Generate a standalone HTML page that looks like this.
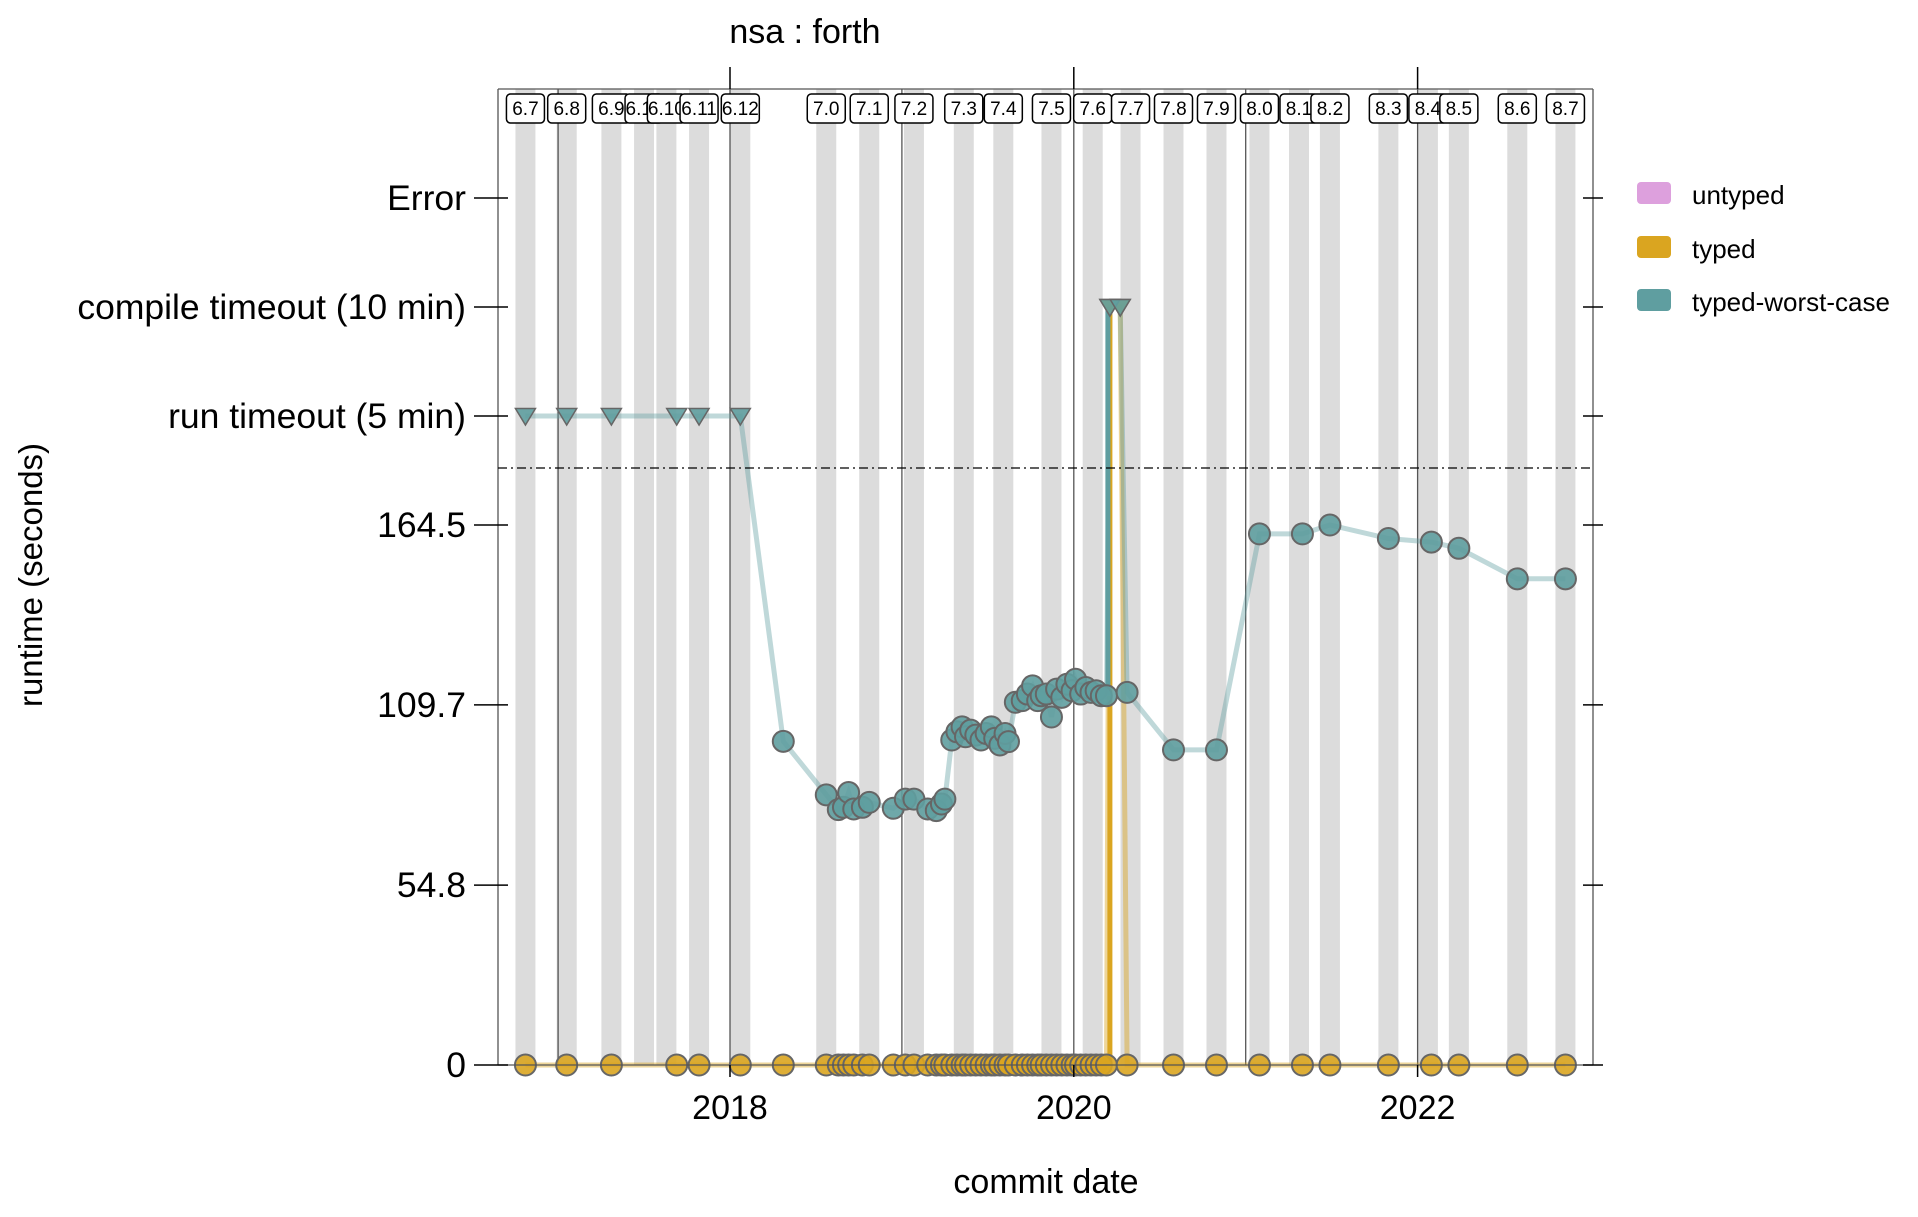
<!DOCTYPE html>
<html><head><meta charset="utf-8"><style>
html,body{margin:0;padding:0;background:#fff;}
svg text{font-family:"Liberation Sans",Arial,sans-serif;}
</style></head><body>
<svg id="chart" width="1918" height="1212" viewBox="0 0 1918 1212" xmlns="http://www.w3.org/2000/svg">
<text x="805" y="43" font-size="34" text-anchor="middle">nsa : forth</text>
<g id="bands"></g><g id="vlines"></g><g id="series"></g><g id="axes"></g><g id="labels"></g>
<text x="1046" y="1193" font-size="34" text-anchor="middle">commit date</text>
<text transform="translate(42,575) rotate(-90)" font-size="33" text-anchor="middle">runtime (seconds)</text>
<g>
<rect x="1637" y="182" width="34" height="22" rx="4" fill="#dda0dd"/>
<text x="1692" y="204" font-size="26">untyped</text>
<rect x="1637" y="236" width="34" height="22" rx="4" fill="#daa520"/>
<text x="1692" y="258" font-size="26">typed</text>
<rect x="1637" y="289" width="34" height="22" rx="4" fill="#5f9ea0"/>
<text x="1692" y="311" font-size="26">typed-worst-case</text>
</g>
</svg>
<script>
const releaseNames=["6.7","6.8","6.9","6.10","6.10","6.11","6.12","7.0","7.1","7.2","7.3","7.4","7.5","7.6","7.7","7.8","7.9","8.0","8.1","8.2","8.3","8.4","8.5","8.6","8.7"];
const releaseDates=[2016.81,2017.05,2017.31,2017.50,2017.63,2017.82,2018.06,2018.56,2018.81,2019.07,2019.36,2019.59,2019.87,2020.11,2020.33,2020.58,2020.83,2021.08,2021.31,2021.49,2021.83,2022.06,2022.24,2022.58,2022.86];
const yearTicks=[2018,2020,2022];
const yearLines=[2017,2018,2019,2020,2021,2022];
const yTickValues=[0,54.8,109.7,164.5];
const yTickLabels=["0","54.8","109.7","164.5"];
const commitDates=[2016.81,2017.05,2017.31,2017.69,2017.82,2018.06,2018.31,2018.56,2018.63,2018.66,2018.69,2018.72,2018.77,2018.81,2018.95,2019.02,2019.07,2019.15,2019.20,2019.23,2019.25,2019.29,2019.32,2019.35,2019.37,2019.40,2019.43,2019.46,2019.49,2019.52,2019.54,2019.57,2019.60,2019.62,2019.66,2019.70,2019.73,2019.76,2019.79,2019.81,2019.84,2019.87,2019.90,2019.93,2019.96,2019.99,2020.01,2020.04,2020.07,2020.10,2020.13,2020.16,2020.19,2020.21,2020.27,2020.31,2020.58,2020.83,2021.08,2021.33,2021.49,2021.83,2022.08,2022.24,2022.58,2022.86];
const worstValues=["run","run","run","run","run","run",98.6,82.3,77.8,78.5,83,78,78.5,80,78.2,81,81,78,77.5,79.5,81,99,101.5,103,100,102,100.5,99,101,103,99.5,97.5,101,98.5,110.5,111,113,115.5,111,112.5,113,106,114.5,112,116,114,117.5,113,115,113.5,114,112.5,112.5,"compile","compile",113.5,96,96,161.8,161.8,164.5,160.4,159.3,157.4,148.1,148.1];
const typedValues=commitDates.map((d,i)=> (i===53||i===54)?"compile":0);

const NS="http://www.w3.org/2000/svg";
const L=498,R=1593,T=89,B=1065;
function xs(yr){return 730+(yr-2018)*171.9;}
function ys(v){if(v==="run")return 416;if(v==="compile")return 307;if(v==="error")return 198;return B-v*(B-525)/164.5;}
function mk(tag,attrs,parent){const e=document.createElementNS(NS,tag);for(const k in attrs)e.setAttribute(k,attrs[k]);parent.appendChild(e);return e;}
const bands=document.getElementById('bands'),vl=document.getElementById('vlines'),ser=document.getElementById('series'),ax=document.getElementById('axes'),lab=document.getElementById('labels');

releaseDates.forEach((d,i)=>{
  const r=mk('rect',{x:xs(d)-10,y:T,width:20,height:B-T,fill:'#dcdcdc'},bands);
  
  
});
yearLines.forEach(y=>{
  const l=mk('line',{x1:xs(y),x2:xs(y),y1:T,y2:B,stroke:'#555','stroke-width':1.3},vl);
  
  
});
mk('line',{x1:L,x2:L,y1:T,y2:B,stroke:'#555','stroke-width':1.3},ax);
mk('line',{x1:R,x2:R,y1:T,y2:B,stroke:'#555','stroke-width':1.3},ax);
mk('line',{x1:L,x2:R,y1:T,y2:T,stroke:'#555','stroke-width':1.3},ax);
mk('line',{x1:L,x2:R,y1:B,y2:B,stroke:'#555','stroke-width':1.3},ax);
const dl=mk('line',{x1:L,x2:R,y1:468,y2:468,stroke:'#000','stroke-width':1.3,'stroke-dasharray':'9,4,2,4'},ax);



function linePath(vals){return commitDates.map((d,i)=>(i?'L':'M')+xs(d).toFixed(1)+','+ys(vals[i]).toFixed(1)).join(' ');}
const tl=mk('path',{d:linePath(typedValues),fill:'none',stroke:'#daa520','stroke-opacity':0.45,'stroke-width':5},ser);


const wl=mk('path',{d:linePath(worstValues),fill:'none',stroke:'#5f9ea0','stroke-opacity':0.4,'stroke-width':5},ser);


const sp=mk('line',{x1:xs(commitDates[53]),x2:xs(commitDates[53]),y1:B,y2:ys(typedValues[53]),stroke:'#daa520','stroke-width':5},ser);


const sp2=mk('line',{x1:xs(commitDates[53])-2,x2:xs(commitDates[53])-2,y1:ys(worstValues[52]),y2:ys(worstValues[53]),stroke:'#5f9ea0','stroke-width':5},ser);



function drawPoints(vals,fill,name){
  commitDates.forEach((d,i)=>{
    const v=vals[i],x=xs(d),y=ys(v);let e;
    if(typeof v==='string'){
      const s=10;
      e=mk('path',{d:`M${x-s},${y-s*0.75} L${x+s},${y-s*0.75} L${x},${y+s*0.9} Z`,fill:fill,stroke:'#666','stroke-width':1.5,'fill-opacity':0.9},ser);
    } else {
      e=mk('circle',{cx:x,cy:y,r:10.5,fill:fill,'fill-opacity':0.9,stroke:'#666','stroke-width':2},ser);
    }
    
    
  });
}
drawPoints(typedValues,'#daa520','typed-point');
drawPoints(worstValues,'#5f9ea0','worst-case-point');

const specials=[["error","Error"],["compile","compile timeout (10 min)"],["run","run timeout (5 min)"]];
function ytick(y,label){
  mk('line',{x1:L-24,x2:L+10,y1:y,y2:y,stroke:'#000','stroke-width':1.5},ax);
  mk('line',{x1:R-10,x2:R+10,y1:y,y2:y,stroke:'#000','stroke-width':1.5},ax);
  const t=mk('text',{x:L-32,y:y+12,'font-size':35.5,'text-anchor':'end'},lab);
  t.textContent=label;
  
  
}
specials.forEach(s=>ytick(ys(s[0]),s[1]));
yTickValues.forEach((v,i)=>ytick(ys(v),yTickLabels[i]));
yearTicks.forEach(y=>{
  mk('line',{x1:xs(y),x2:xs(y),y1:B,y2:B+12,stroke:'#000','stroke-width':1.5},ax);
  mk('line',{x1:xs(y),x2:xs(y),y1:T-22,y2:T,stroke:'#000','stroke-width':1.5},ax);
  const t=mk('text',{x:xs(y),y:1119,'font-size':34,'text-anchor':'middle'},lab);
  t.textContent=String(y);
  
  
});
releaseDates.forEach((d,i)=>{
  const g=mk('g',{},lab);
  
  
  mk('rect',{x:xs(d)-19,y:94,width:38,height:29,rx:4,fill:'#fff',stroke:'#000','stroke-width':1.5},g);
  const t=mk('text',{x:xs(d),y:115,'font-size':19,'text-anchor':'middle'},g);
  t.textContent=releaseNames[i];
});
</script>
</body></html>
